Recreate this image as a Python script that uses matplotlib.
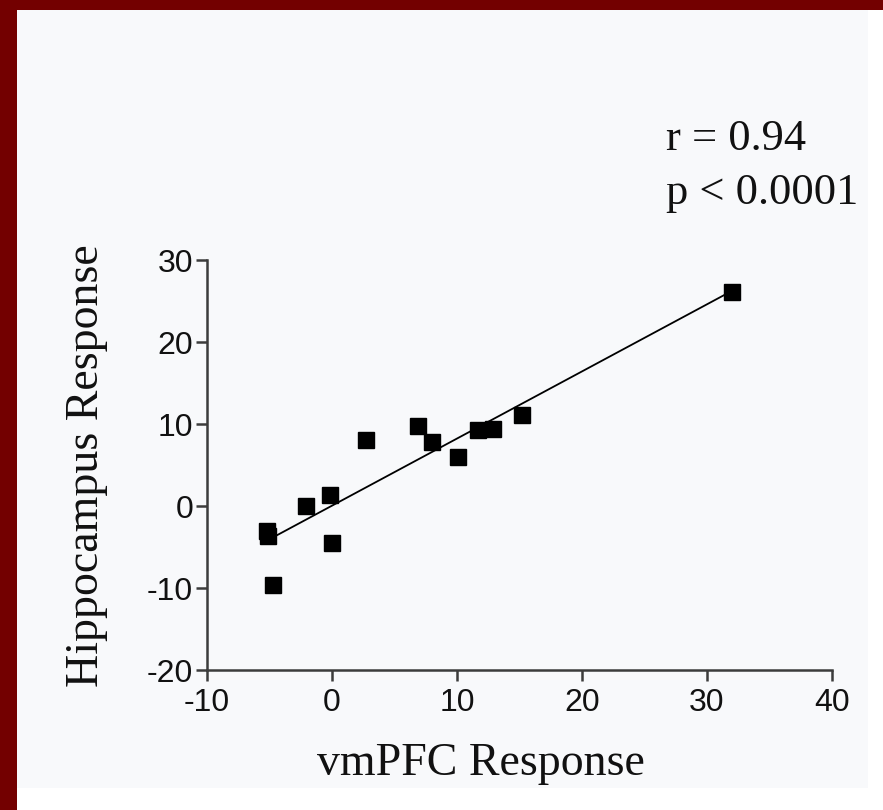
import numpy as np
import matplotlib
matplotlib.use('Agg')
import matplotlib.pyplot as plt
from matplotlib.patches import Rectangle

# values
vmpfc = [32.0, 15.2, 12.9, 11.7, 6.9, 8.0, 10.1, 2.7, -2.1, -0.2, 0.0, -5.2, -5.1, -4.7]
hippo = [26.1, 11.1, 9.35, 9.3, 9.7, 7.8, 6.0, 8.1, 0.0, 1.3, -4.5, -3.1, -3.7, -9.6]
x_ticks = [-10, 0, 10, 20, 30, 40]
y_ticks = [-20, -10, 0, 10, 20, 30]
stats_lines = ['r = 0.94', 'p < 0.0001']

plt.rcParams['axes.unicode_minus'] = False

W, H = 883, 810
fig = plt.figure(figsize=(W / 100, H / 100), dpi=100, facecolor='white')

# frame: maroon left/top border, light inner panel
fig.patches.append(Rectangle((17 / W, 1 - 788 / H), (868 - 17) / W, (788 - 10) / H,
                             transform=fig.transFigure, facecolor='#f8f9fb',
                             edgecolor='none', zorder=-10))
fig.patches.append(Rectangle((0, 0), 17 / W, 1, transform=fig.transFigure,
                             facecolor='#730000', edgecolor='none', zorder=-9))
fig.patches.append(Rectangle((0, 1 - 10 / H), 1, 10 / H, transform=fig.transFigure,
                             facecolor='#730000', edgecolor='none', zorder=-9))

ax = fig.add_axes([207 / W, 140 / H, 625 / W, 410 / H])
ax.patch.set_visible(False)

x = np.array(vmpfc)
y = np.array(hippo)
slope, icpt = np.polyfit(x, y, 1)
xs = np.array([x.min(), x.max()])
ax.plot(xs, slope * xs + icpt, color='black', lw=1.3, zorder=2)
ax.plot(x, y, 's', color='black', markersize=12, zorder=3, clip_on=False)

ax.set_xlim(-10, 40)
ax.set_ylim(-20, 30)
ax.set_xticks(x_ticks)
ax.set_yticks(y_ticks)

for side in ['top', 'right']:
    ax.spines[side].set_visible(False)
for side in ['left', 'bottom']:
    ax.spines[side].set_color('#3c3c3c')
    ax.spines[side].set_linewidth(1.8)

ax.tick_params(direction='out', length=8, width=1.8, color='#3c3c3c',
               labelsize=23, labelcolor='#111111')
ax.tick_params(axis='x', pad=5)
ax.tick_params(axis='y', pad=2)
for lab in ax.get_xticklabels() + ax.get_yticklabels():
    lab.set_family('Liberation Sans')

fig.text(480.5 / W, 1 - 775 / H, 'vmPFC Response', family='Liberation Serif',
         fontsize=33, ha='center', va='baseline', color='#111111')
fig.text(87 / W, 1 - 466 / H, 'Hippocampus Response', family='Liberation Serif',
         fontsize=33, rotation=90, ha='center', va='center', color='#111111')

fig.text(666 / W, 1 - 150 / H, stats_lines[0], family='Liberation Serif',
         fontsize=32, ha='left', va='baseline', color='#111111')
fig.text(666 / W, 1 - 204 / H, stats_lines[1], family='Liberation Serif',
         fontsize=32, ha='left', va='baseline', color='#111111')

fig.savefig('out.png', dpi=100, facecolor=fig.get_facecolor())
